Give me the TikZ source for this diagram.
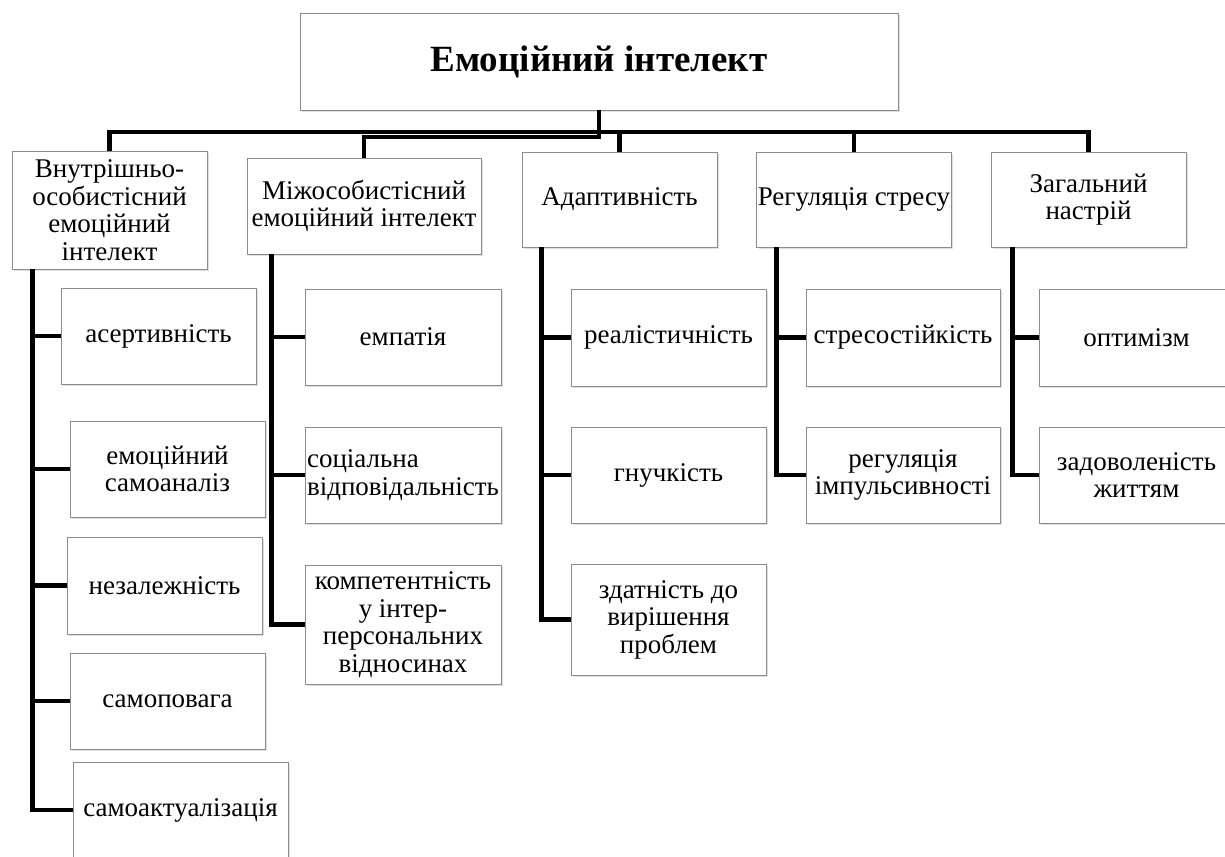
\documentclass[tikz,border=0pt]{standalone}
\usepackage{fontspec}
\setmainfont{Liberation Serif}
\usetikzlibrary{shadows}
\begin{document}
\begin{tikzpicture}[x=1pt,y=-1pt]
		\tikzstyle{every node}+=[inner sep=1pt]
		\tikzstyle{box}=[draw=black!45, line width=0.8pt, fill=white, drop shadow={shadow xshift=2pt, shadow yshift=-2pt, opacity=0.25}, align=center, minimum width=195pt, minimum height=96pt, font=\fontsize{27}{27.5}\selectfont]
		\tikzstyle{link}=[black, line width=4.5pt]
		\useasboundingbox (0,0) rectangle (1225,856);
		\node [box, minimum width=598pt, minimum height=97pt, font=\fontsize{37}{40}\selectfont\bfseries] (root) at (599,61.5) {Емоційний інтелект};
		\node [box, minimum height=118pt] (b1) at (109.5,210) {Внутрішньо-\\особистісний\\емоційний\\інтелект};
		\node [box, minimum width=234pt] (b2) at (364,206) {Міжособистісний\\емоційний інтелект};
		\node [box, minimum height=95pt] (b3) at (619.5,199.5) {Адаптивність};
		\node [box, minimum width=194pt, minimum height=95pt] (b4) at (854,199.5) {Регуляція стресу};
		\node [box, minimum height=95pt] (b5) at (1088.5,199.5) {Загальний\\настрій};
		\node [box] (c11) at (158.5,336) {асертивність};
		\node [box] (c12) at (167.5,469) {емоційний\\самоаналіз};
		\node [box, minimum height=97pt] (c13) at (164.5,585.5) {незалежність};
		\node [box] (c14) at (167.5,701) {самоповага};
		\node [box, minimum width=215pt] (c15) at (180.5,810) {самоактуалізація};
		\node [box, minimum width=196pt] (c21) at (403,337) {емпатія};
		\node [box, minimum width=196pt, align=left] (c22) at (403,475) {соціальна\\відповідальність};
		\node [box, minimum width=196pt, minimum height=119pt] (c23) at (403,624.5) {компетентність\\у інтер-\\персональних\\відносинах};
		\node [box, minimum height=97pt] (c31) at (668.5,337.5) {реалістичність};
		\node [box] (c32) at (668.5,475) {гнучкість};
		\node [box, minimum height=111pt] (c33) at (668.5,619.5) {здатність до\\вирішення\\проблем};
		\node [box, minimum width=194pt, minimum height=97pt] (c41) at (903,337.5) {стресостійкість};
		\node [box, minimum width=194pt] (c42) at (903,475) {регуляція\\імпульсивності};
		\node [box, minimum height=97pt] (c51) at (1136.5,337.5) {оптимізм};
		\node [box] (c52) at (1136.5,475) {задоволеність\\життям};
		\coordinate (bar) at (600,132);
		\coordinate (bar2) at (600,137);
		\draw [link] (b1.north) |- (bar) -| (b5.north);
		\draw [link] (b3.north) -- (b3.north |- bar);
		\draw [link] (b4.north) -- (b4.north |- bar);
		\draw [link] (root.south) -- (root.south |- bar2) -| (b2.north);
		\foreach \c in {c11,c12,c13,c14,c15}
			\draw [link] (b1.south west) ++(21,0) |- (\c.west);
		\foreach \c in {c21,c22,c23}
			\draw [link] (b2.south west) ++(25,0) |- (\c.west);
		\foreach \c in {c31,c32,c33}
			\draw [link] (b3.south west) ++(20,0) |- (\c.west);
		\foreach \c in {c41,c42}
			\draw [link] (b4.south west) ++(20,0) |- (\c.west);
		\foreach \c in {c51,c52}
			\draw [link] (b5.south west) ++(22,0) |- (\c.west);
\end{tikzpicture}
\end{document}
